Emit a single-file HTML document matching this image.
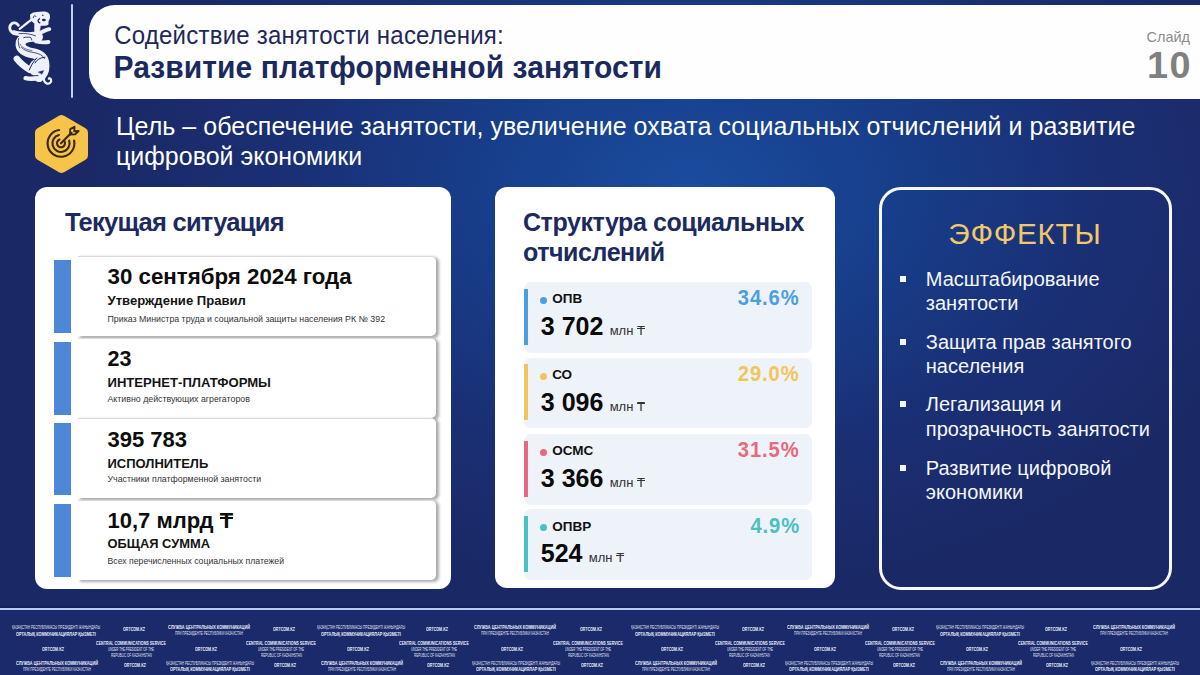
<!DOCTYPE html>
<html><head><meta charset="utf-8">
<style>
*{margin:0;padding:0;box-sizing:border-box}
html,body{width:1200px;height:675px;overflow:hidden}
body{font-family:"Liberation Sans",sans-serif;position:relative;background:#1a2966}
.b{position:absolute}
.t{position:absolute;white-space:nowrap;line-height:1}
#bg{left:0;top:0;width:1200px;height:608px;
background:radial-gradient(ellipse 600px 400px at 690px 190px,#1b4c9e 0%,#173f8c 32%,#1a2f74 68%,#1a2966 100%)}
.tg{position:relative;display:inline-block}
.tg:before{content:"";position:absolute;left:4%;right:4%;top:0.29em;height:0.08em;background:currentColor}
#footer{left:0;top:608px;width:1200px;height:67px;background:#1b2a6a;overflow:hidden}
#fline{left:0;top:607.6px;width:1200px;height:2.2px;background:#bccaee;box-shadow:0 -1.5px 1.5px rgba(10,15,50,0.45)}
.ft{position:absolute;white-space:nowrap;line-height:1;color:#e9eefa;font-weight:bold;transform-origin:0 0}
</style></head><body>
<div class="b" id="bg"></div>
<div class="b" style="left:89px;top:4.5px;width:1111px;height:94px;background:#fefefe;border-radius:26px 0 0 26px"></div>
<div class="b" style="left:71.3px;top:4.4px;width:2px;height:93.4px;background:#c3cdf0;border-radius:1px"></div>
<svg class="b" style="left:0;top:0" width="60" height="90" viewBox="0 0 60 90">
<g fill="none" stroke="#eef1fa" stroke-linecap="round" stroke-linejoin="round">
<path d="M30.8,15.1 C32,13.5 34,12.9 36.1,12.9 L43.7,12.2 C46.5,12.4 48.5,13.5 49,15.1 L49.2,17.3 C49,19 48.2,20.3 47.7,21.3 L47.7,24 C46.8,24.7 45.8,24.9 44.6,24.9 L39.7,24.9 C37.5,24.5 35.3,23.5 33.9,22.2 C32.6,21.2 31.6,20.2 31.2,19.1 Z" fill="#eef1fa" stroke-width="1.6"/>
<path d="M35,22 L40.5,24.5 L39.8,30 L39.5,35.5 L35,37 L34.5,28 Z" fill="#eef1fa" stroke-width="0.6"/>
<path d="M38.5,34 C42,32 46,29.8 49.3,29.2" stroke-width="3.9"/>
<path d="M19.7,28.9 C23,26.5 28,22 31.8,19.5" stroke-width="2.2"/>
<path d="M18.3,25.3 C16.5,22.5 13.5,22.3 11.5,23.8 C9.2,25.8 9.2,29.5 11.2,31.5 C13,33.3 17,33.6 21,33.4" stroke-width="2.9"/>
<path d="M13.5,32.5 C20,34.5 28,34 36.5,36" stroke-width="4.6"/>
<path d="M38,37 C28,36 20,38.5 20.5,44.5 C21,50 28,52.5 34,53.5 C41,55 44.5,59 44.5,66 C44.5,71 42,75 39,77" stroke-width="10"/>
<path d="M36,41.5 C40,42.3 45,42.5 48.5,42" stroke-width="3.8"/>
<path d="M30,70 C25,67 20,63 16.8,58.8" stroke-width="6.4"/>
<path d="M40,77.3 C35,79 30,79.2 25.6,78.2" stroke-width="4.4"/>
<ellipse cx="37" cy="68" rx="8" ry="9" fill="#eef1fa" stroke="none"/>
<path d="M45.5,73 C43.2,77 43.3,82.3 46.5,83.4 C49.5,84.3 51.8,82 51,79.5 C50.4,78 49.2,77.8 48.8,78.8" stroke-width="2.2"/>
</g>
<g fill="none" stroke="#1a2866" stroke-width="0.9" stroke-linecap="round">
<path d="M33.3,17.8 C33,16 35,15 36,16.5" stroke-width="1"/>
<ellipse cx="43.9" cy="20" rx="2" ry="1.3" fill="#1a2866" stroke="none"/>
<path d="M39.5,18.8 C37.5,19.8 37.5,22 39.8,22.8" stroke-width="1.3"/>
<circle cx="42.8" cy="15.3" r="0.8" fill="#1a2866" stroke="none"/>
<path d="M19,33.6 C25,33.1 31,33.9 35.5,35.9" stroke-width="0.8"/>
<path d="M23.7,37.6 C26,36.6 28,37.6 30,37.1 C31,37.4 31.5,38.6 31.7,40" stroke-width="0.9"/>
<path d="M18.6,38.5 C17.8,41 18.2,45 19.8,48" stroke-width="0.8"/>
<path d="M21.5,47.5 C24,50.5 29,51.8 34,52.6 C39.5,53.6 43,55.5 44.5,58.5" stroke-width="0.8"/>
<path d="M20,44 C21.5,48 27,49.8 32,50.5" stroke-width="0.6"/>
<path d="M45,57.2 C40,57.5 36.5,60 35,63" stroke-width="1"/>
<path d="M36.7,58 C33,62 31,66 29.3,70" stroke-width="1"/>
<path d="M38.3,72 L43.7,70.6 L42,74.1 Z" fill="#1a2866" stroke-width="0.4"/>
<path d="M29.5,74.2 C32,75.6 35,76 38,75.6" stroke-width="0.9"/>
</g>
</svg>
<div class="t " style="left:114.2px;top:23.68px;font-size:24px;font-weight:normal;color:#1f2856;letter-spacing:0.23px;transform:scaleY(1.08);transform-origin:0 0.8465em;">Содействие занятости населения:</div>
<div class="t " style="left:113.5px;top:53.11px;font-size:30px;font-weight:bold;color:#1b2a5e;letter-spacing:0.07px;transform:scaleY(1.06);transform-origin:0 0.8465em;">Развитие платформенной занятости</div>
<div class="t " style="left:1146.5px;top:29.53px;font-size:14.5px;font-weight:normal;color:#8c8c8c;letter-spacing:0px;">Слайд</div>
<div class="t " style="left:1146.5px;top:47.73px;font-size:36px;font-weight:bold;color:#808080;letter-spacing:1.5px;transform:scaleX(1.05);transform-origin:0 0;">10</div>
<svg class="b" style="left:30px;top:110px" width="64" height="68" viewBox="30 110 64 68">
<polygon points="61.5,120 83,132.5 83,155.5 61.5,168 40,155.5 40,132.5" fill="#f6c449" stroke="#f6c449" stroke-width="10" stroke-linejoin="round"/>
<g fill="none" stroke="#3a2810" stroke-width="2.1" stroke-linecap="round">
<path d="M74.11,140.51 A13.4,13.4 0 1 1 59.14,130.03"/>
<path d="M69.18,140.64 A8.6,8.6 0 1 1 58.92,134.96"/>
<path d="M64.63,141.61 A4.0,4.0 0 1 1 59.50,139.59"/>
<path d="M61,143.3 L71.5,132.8"/>
<path d="M70.2,129.2 L70,134.6 L75.2,134.3 L78.6,131 L74.3,131.2 L74.5,126.8 Z" stroke-linejoin="round" stroke-width="1.9"/>
</g>
</svg>
<div class="t " style="left:116px;top:113.84px;font-size:25px;font-weight:normal;color:#ffffff;letter-spacing:0.045px;transform:scaleY(1.05);transform-origin:0 0.8465em;">Цель – обеспечение занятости, увеличение охвата социальных отчислений и развитие</div>
<div class="t " style="left:116px;top:143.84px;font-size:25px;font-weight:normal;color:#ffffff;letter-spacing:0px;transform:scaleY(1.05);transform-origin:0 0.8465em;">цифровой экономики</div>
<div class="b" style="left:35.2px;top:187.4px;width:415.8px;height:401.4px;background:#fff;border-radius:12px"></div>
<div class="t " style="left:65px;top:210.21px;font-size:25.5px;font-weight:bold;color:#1c2a60;letter-spacing:-0.74px;">Текущая ситуация</div>
<div class="b" style="left:78px;top:255.6px;width:357.5px;height:80px;background:#fff;border-radius:0 5px 5px 0;border-top:1px solid #dadada;box-shadow:2.5px 1.5px 3px rgba(0,0,0,0.33)"></div>
<div class="b" style="left:54.3px;top:260.1px;width:16.8px;height:72.8px;background:#4d87d6"></div>
<div class="t " style="left:107.5px;top:266.12px;font-size:22.3px;font-weight:bold;color:#0d0d0d;letter-spacing:0px;">30 сентября 2024 года</div>
<div class="t " style="left:107.5px;top:293.91px;font-size:13.1px;font-weight:bold;color:#141414;letter-spacing:0px;">Утверждение Правил</div>
<div class="t " style="left:107.5px;top:315.05px;font-size:8.8px;font-weight:normal;color:#333333;letter-spacing:0px;">Приказ Министра труда и социальной защиты населения РК № 392</div>
<div class="b" style="left:78px;top:337.8px;width:357.5px;height:80px;background:#fff;border-radius:0 5px 5px 0;border-top:1px solid #dadada;box-shadow:2.5px 1.5px 3px rgba(0,0,0,0.33)"></div>
<div class="b" style="left:54.3px;top:342.3px;width:16.8px;height:72.8px;background:#4d87d6"></div>
<div class="t " style="left:107.5px;top:349.00px;font-size:21.5px;font-weight:bold;color:#0d0d0d;letter-spacing:0px;">23</div>
<div class="t " style="left:107.5px;top:376.11px;font-size:13.1px;font-weight:bold;color:#141414;letter-spacing:0px;">ИНТЕРНЕТ-ПЛАТФОРМЫ</div>
<div class="t " style="left:107.5px;top:394.75px;font-size:8.8px;font-weight:normal;color:#333333;letter-spacing:0px;">Активно действующих агрегаторов</div>
<div class="b" style="left:78px;top:418.2px;width:357.5px;height:80px;background:#fff;border-radius:0 5px 5px 0;border-top:1px solid #dadada;box-shadow:2.5px 1.5px 3px rgba(0,0,0,0.33)"></div>
<div class="b" style="left:54.3px;top:422.7px;width:16.8px;height:72.8px;background:#4d87d6"></div>
<div class="t " style="left:107.5px;top:428.98px;font-size:22px;font-weight:bold;color:#0d0d0d;letter-spacing:0px;">395 783</div>
<div class="t " style="left:107.5px;top:456.60px;font-size:13px;font-weight:bold;color:#141414;letter-spacing:0px;">ИСПОЛНИТЕЛЬ</div>
<div class="t " style="left:107.5px;top:475.15px;font-size:8.8px;font-weight:normal;color:#333333;letter-spacing:0px;">Участники платформенной занятости</div>
<div class="b" style="left:78px;top:499.6px;width:357.5px;height:80px;background:#fff;border-radius:0 5px 5px 0;border-top:1px solid #dadada;box-shadow:2.5px 1.5px 3px rgba(0,0,0,0.33)"></div>
<div class="b" style="left:54.3px;top:504.1px;width:16.8px;height:72.8px;background:#4d87d6"></div>
<div class="t " style="left:107.5px;top:510.38px;font-size:22px;font-weight:bold;color:#0d0d0d;letter-spacing:0px;">10,7 млрд <span class="tg">Т</span></div>
<div class="t " style="left:107.5px;top:538.08px;font-size:12.9px;font-weight:bold;color:#141414;letter-spacing:0px;">ОБЩАЯ СУММА</div>
<div class="t " style="left:107.5px;top:556.64px;font-size:8.7px;font-weight:normal;color:#333333;letter-spacing:0px;">Всех перечисленных социальных платежей</div>
<div class="b" style="left:495.2px;top:187.4px;width:340px;height:401px;background:#fff;border-radius:12px"></div>
<div class="t " style="left:523px;top:210.34px;font-size:25px;font-weight:bold;color:#1c2a60;letter-spacing:-0.43px;">Структура социальных</div>
<div class="t " style="left:523px;top:240.24px;font-size:25px;font-weight:bold;color:#1c2a60;letter-spacing:-0.43px;">отчислений</div>
<div class="b" style="left:523.8px;top:281.9px;width:288.2px;height:70.8px;background:#eef2f9;border-radius:7px"></div>
<div class="b" style="left:523.8px;top:288.7px;width:4px;height:56.2px;background:#4aa0de"></div>
<div class="b" style="left:540.3px;top:296.9px;width:7px;height:7px;border-radius:50%;background:#4aa0de"></div>
<div class="t " style="left:552.2px;top:292.47px;font-size:13.5px;font-weight:bold;color:#111;letter-spacing:0px;">ОПВ</div>
<div class="t" style="left:540.8px;top:313.94px;font-size:25px;font-weight:bold;color:#0b0b0b;letter-spacing:0px">3 702<span style="font-size:13px;font-weight:normal;color:#333;letter-spacing:0;margin-left:6.3px">млн <span class="tg">Т</span></span></div>
<div class="t" style="right:400.1px;top:287.34px;font-size:22.4px;font-weight:bold;color:#4aa0de;letter-spacing:1px;transform:scaleX(0.9);transform-origin:100% 0">34.6%</div>
<div class="b" style="left:523.8px;top:357.5px;width:288.2px;height:70.8px;background:#eef2f9;border-radius:7px"></div>
<div class="b" style="left:523.8px;top:364.3px;width:4px;height:56.2px;background:#f1c55e"></div>
<div class="b" style="left:540.3px;top:372.5px;width:7px;height:7px;border-radius:50%;background:#f1c55e"></div>
<div class="t " style="left:552.2px;top:368.07px;font-size:13.5px;font-weight:bold;color:#111;letter-spacing:0px;">СО</div>
<div class="t" style="left:540.8px;top:389.54px;font-size:25px;font-weight:bold;color:#0b0b0b;letter-spacing:0px">3 096<span style="font-size:13px;font-weight:normal;color:#333;letter-spacing:0;margin-left:6.3px">млн <span class="tg">Т</span></span></div>
<div class="t" style="right:400.1px;top:362.94px;font-size:22.4px;font-weight:bold;color:#f1c55e;letter-spacing:1px;transform:scaleX(0.9);transform-origin:100% 0">29.0%</div>
<div class="b" style="left:523.8px;top:433.8px;width:288.2px;height:70.8px;background:#eef2f9;border-radius:7px"></div>
<div class="b" style="left:523.8px;top:440.6px;width:4px;height:56.2px;background:#e8687f"></div>
<div class="b" style="left:540.3px;top:448.8px;width:7px;height:7px;border-radius:50%;background:#e8687f"></div>
<div class="t " style="left:552.2px;top:444.37px;font-size:13.5px;font-weight:bold;color:#111;letter-spacing:0px;">ОСМС</div>
<div class="t" style="left:540.8px;top:465.84px;font-size:25px;font-weight:bold;color:#0b0b0b;letter-spacing:0px">3 366<span style="font-size:13px;font-weight:normal;color:#333;letter-spacing:0;margin-left:6.3px">млн <span class="tg">Т</span></span></div>
<div class="t" style="right:400.1px;top:439.24px;font-size:22.4px;font-weight:bold;color:#e8687f;letter-spacing:1px;transform:scaleX(0.9);transform-origin:100% 0">31.5%</div>
<div class="b" style="left:523.8px;top:509.3px;width:288.2px;height:70.8px;background:#eef2f9;border-radius:7px"></div>
<div class="b" style="left:523.8px;top:516.1px;width:4px;height:56.2px;background:#4cbfbf"></div>
<div class="b" style="left:540.3px;top:524.3px;width:7px;height:7px;border-radius:50%;background:#4cbfbf"></div>
<div class="t " style="left:552.2px;top:519.87px;font-size:13.5px;font-weight:bold;color:#111;letter-spacing:0px;">ОПВР</div>
<div class="t" style="left:540.8px;top:541.34px;font-size:25px;font-weight:bold;color:#0b0b0b;letter-spacing:0px">524<span style="font-size:13px;font-weight:normal;color:#333;letter-spacing:0;margin-left:6.3px">млн <span class="tg">Т</span></span></div>
<div class="t" style="right:400.1px;top:514.74px;font-size:22.4px;font-weight:bold;color:#4cbfbf;letter-spacing:1px;transform:scaleX(0.9);transform-origin:100% 0">4.9%</div>
<div class="b" style="left:878.8px;top:187.2px;width:293px;height:402.5px;border:3px solid #f7f8fc;border-radius:22px"></div>
<div class="t " style="left:948.3px;top:219.46px;font-size:29.7px;font-weight:normal;color:#f2c868;letter-spacing:0.75px;">ЭФФЕКТЫ</div>
<div class="b" style="left:900.4px;top:275.9px;width:5.8px;height:5.8px;background:#f4f6fb"></div>
<div class="t " style="left:925.8px;top:268.97px;font-size:20px;font-weight:normal;color:#f4f6fb;letter-spacing:0px;">Масштабирование</div>
<div class="t " style="left:925.8px;top:293.17px;font-size:20px;font-weight:normal;color:#f4f6fb;letter-spacing:0px;">занятости</div>
<div class="b" style="left:900.4px;top:339.0px;width:5.8px;height:5.8px;background:#f4f6fb"></div>
<div class="t " style="left:925.8px;top:332.07px;font-size:20px;font-weight:normal;color:#f4f6fb;letter-spacing:0px;">Защита прав занятого</div>
<div class="t " style="left:925.8px;top:356.27px;font-size:20px;font-weight:normal;color:#f4f6fb;letter-spacing:0px;">населения</div>
<div class="b" style="left:900.4px;top:401.3px;width:5.8px;height:5.8px;background:#f4f6fb"></div>
<div class="t " style="left:925.8px;top:394.37px;font-size:20px;font-weight:normal;color:#f4f6fb;letter-spacing:0px;">Легализация и</div>
<div class="t " style="left:925.8px;top:418.57px;font-size:20px;font-weight:normal;color:#f4f6fb;letter-spacing:0px;">прозрачность занятости</div>
<div class="b" style="left:900.4px;top:464.8px;width:5.8px;height:5.8px;background:#f4f6fb"></div>
<div class="t " style="left:925.8px;top:457.87px;font-size:20px;font-weight:normal;color:#f4f6fb;letter-spacing:0px;">Развитие цифровой</div>
<div class="t " style="left:925.8px;top:482.07px;font-size:20px;font-weight:normal;color:#f4f6fb;letter-spacing:0px;">экономики</div>
<div class="b" id="footer"></div><div class="b" id="fline"></div>
<div class="ft" style="left:12.0px;top:623.70px;font-size:6.1px;font-weight:normal;opacity:0.95;transform:scaleX(0.518)">ҚАЗАҚСТАН РЕСПУБЛИКАСЫ ПРЕЗИДЕНТІ ЖАНЫНДАҒЫ</div>
<div class="ft" style="left:16.0px;top:630.70px;font-size:6.1px;font-weight:bold;opacity:1.0;transform:scaleX(0.628)">ОРТАЛЫҚ КОММУНИКАЦИЯЛАР ҚЫЗМЕТІ</div>
<div class="ft" style="left:42.0px;top:646.20px;font-size:6.1px;font-weight:bold;opacity:1.0;transform:scaleX(0.596)">ORTCOM.KZ</div>
<div class="ft" style="left:16.0px;top:660.00px;font-size:6.1px;font-weight:bold;opacity:1.0;transform:scaleX(0.630)">СЛУЖБА ЦЕНТРАЛЬНЫХ КОММУНИКАЦИЙ</div>
<div class="ft" style="left:23.0px;top:666.00px;font-size:6.1px;font-weight:normal;opacity:0.95;transform:scaleX(0.503)">ПРИ ПРЕЗИДЕНТЕ РЕСПУБЛИКИ КАЗАХСТАН</div>
<div class="ft" style="left:123.0px;top:626.30px;font-size:6.1px;font-weight:bold;opacity:1.0;transform:scaleX(0.596)">ORTCOM.KZ</div>
<div class="ft" style="left:96.0px;top:640.40px;font-size:6.1px;font-weight:bold;opacity:1.0;transform:scaleX(0.604)">CENTRAL COMMUNICATIONS SERVICE</div>
<div class="ft" style="left:108.0px;top:646.30px;font-size:6.1px;font-weight:normal;opacity:0.95;transform:scaleX(0.480)">UNDER THE PRESIDENT OF THE</div>
<div class="ft" style="left:110.5px;top:652.20px;font-size:6.1px;font-weight:normal;opacity:0.95;transform:scaleX(0.496)">REPUBLIC OF KAZAKHSTAN</div>
<div class="ft" style="left:124.0px;top:661.50px;font-size:6.1px;font-weight:bold;opacity:1.0;transform:scaleX(0.596)">ORTCOM.KZ</div>
<div class="ft" style="left:168.0px;top:623.70px;font-size:6.1px;font-weight:bold;opacity:1.0;transform:scaleX(0.630)">СЛУЖБА ЦЕНТРАЛЬНЫХ КОММУНИКАЦИЙ</div>
<div class="ft" style="left:175.0px;top:630.20px;font-size:6.1px;font-weight:normal;opacity:0.95;transform:scaleX(0.503)">ПРИ ПРЕЗИДЕНТЕ РЕСПУБЛИКИ КАЗАХСТАН</div>
<div class="ft" style="left:195.0px;top:646.20px;font-size:6.1px;font-weight:bold;opacity:1.0;transform:scaleX(0.596)">ORTCOM.KZ</div>
<div class="ft" style="left:166.0px;top:660.00px;font-size:6.1px;font-weight:normal;opacity:0.95;transform:scaleX(0.518)">ҚАЗАҚСТАН РЕСПУБЛИКАСЫ ПРЕЗИДЕНТІ ЖАНЫНДАҒЫ</div>
<div class="ft" style="left:170.0px;top:666.00px;font-size:6.1px;font-weight:bold;opacity:1.0;transform:scaleX(0.628)">ОРТАЛЫҚ КОММУНИКАЦИЯЛАР ҚЫЗМЕТІ</div>
<div class="ft" style="left:273.0px;top:626.30px;font-size:6.1px;font-weight:bold;opacity:1.0;transform:scaleX(0.596)">ORTCOM.KZ</div>
<div class="ft" style="left:246.0px;top:640.40px;font-size:6.1px;font-weight:bold;opacity:1.0;transform:scaleX(0.604)">CENTRAL COMMUNICATIONS SERVICE</div>
<div class="ft" style="left:258.0px;top:646.30px;font-size:6.1px;font-weight:normal;opacity:0.95;transform:scaleX(0.480)">UNDER THE PRESIDENT OF THE</div>
<div class="ft" style="left:260.5px;top:652.20px;font-size:6.1px;font-weight:normal;opacity:0.95;transform:scaleX(0.496)">REPUBLIC OF KAZAKHSTAN</div>
<div class="ft" style="left:274.0px;top:661.50px;font-size:6.1px;font-weight:bold;opacity:1.0;transform:scaleX(0.596)">ORTCOM.KZ</div>
<div class="ft" style="left:317.0px;top:623.70px;font-size:6.1px;font-weight:normal;opacity:0.95;transform:scaleX(0.518)">ҚАЗАҚСТАН РЕСПУБЛИКАСЫ ПРЕЗИДЕНТІ ЖАНЫНДАҒЫ</div>
<div class="ft" style="left:321.0px;top:630.70px;font-size:6.1px;font-weight:bold;opacity:1.0;transform:scaleX(0.628)">ОРТАЛЫҚ КОММУНИКАЦИЯЛАР ҚЫЗМЕТІ</div>
<div class="ft" style="left:347.0px;top:646.20px;font-size:6.1px;font-weight:bold;opacity:1.0;transform:scaleX(0.596)">ORTCOM.KZ</div>
<div class="ft" style="left:321.0px;top:660.00px;font-size:6.1px;font-weight:bold;opacity:1.0;transform:scaleX(0.630)">СЛУЖБА ЦЕНТРАЛЬНЫХ КОММУНИКАЦИЙ</div>
<div class="ft" style="left:328.0px;top:666.00px;font-size:6.1px;font-weight:normal;opacity:0.95;transform:scaleX(0.503)">ПРИ ПРЕЗИДЕНТЕ РЕСПУБЛИКИ КАЗАХСТАН</div>
<div class="ft" style="left:426.0px;top:626.30px;font-size:6.1px;font-weight:bold;opacity:1.0;transform:scaleX(0.596)">ORTCOM.KZ</div>
<div class="ft" style="left:399.0px;top:640.40px;font-size:6.1px;font-weight:bold;opacity:1.0;transform:scaleX(0.604)">CENTRAL COMMUNICATIONS SERVICE</div>
<div class="ft" style="left:411.0px;top:646.30px;font-size:6.1px;font-weight:normal;opacity:0.95;transform:scaleX(0.480)">UNDER THE PRESIDENT OF THE</div>
<div class="ft" style="left:413.5px;top:652.20px;font-size:6.1px;font-weight:normal;opacity:0.95;transform:scaleX(0.496)">REPUBLIC OF KAZAKHSTAN</div>
<div class="ft" style="left:427.0px;top:661.50px;font-size:6.1px;font-weight:bold;opacity:1.0;transform:scaleX(0.596)">ORTCOM.KZ</div>
<div class="ft" style="left:474.0px;top:623.70px;font-size:6.1px;font-weight:bold;opacity:1.0;transform:scaleX(0.630)">СЛУЖБА ЦЕНТРАЛЬНЫХ КОММУНИКАЦИЙ</div>
<div class="ft" style="left:481.0px;top:630.20px;font-size:6.1px;font-weight:normal;opacity:0.95;transform:scaleX(0.503)">ПРИ ПРЕЗИДЕНТЕ РЕСПУБЛИКИ КАЗАХСТАН</div>
<div class="ft" style="left:501.0px;top:646.20px;font-size:6.1px;font-weight:bold;opacity:1.0;transform:scaleX(0.596)">ORTCOM.KZ</div>
<div class="ft" style="left:472.0px;top:660.00px;font-size:6.1px;font-weight:normal;opacity:0.95;transform:scaleX(0.518)">ҚАЗАҚСТАН РЕСПУБЛИКАСЫ ПРЕЗИДЕНТІ ЖАНЫНДАҒЫ</div>
<div class="ft" style="left:476.0px;top:666.00px;font-size:6.1px;font-weight:bold;opacity:1.0;transform:scaleX(0.628)">ОРТАЛЫҚ КОММУНИКАЦИЯЛАР ҚЫЗМЕТІ</div>
<div class="ft" style="left:580.0px;top:626.30px;font-size:6.1px;font-weight:bold;opacity:1.0;transform:scaleX(0.596)">ORTCOM.KZ</div>
<div class="ft" style="left:553.0px;top:640.40px;font-size:6.1px;font-weight:bold;opacity:1.0;transform:scaleX(0.604)">CENTRAL COMMUNICATIONS SERVICE</div>
<div class="ft" style="left:565.0px;top:646.30px;font-size:6.1px;font-weight:normal;opacity:0.95;transform:scaleX(0.480)">UNDER THE PRESIDENT OF THE</div>
<div class="ft" style="left:567.5px;top:652.20px;font-size:6.1px;font-weight:normal;opacity:0.95;transform:scaleX(0.496)">REPUBLIC OF KAZAKHSTAN</div>
<div class="ft" style="left:581.0px;top:661.50px;font-size:6.1px;font-weight:bold;opacity:1.0;transform:scaleX(0.596)">ORTCOM.KZ</div>
<div class="ft" style="left:631.0px;top:623.70px;font-size:6.1px;font-weight:normal;opacity:0.95;transform:scaleX(0.518)">ҚАЗАҚСТАН РЕСПУБЛИКАСЫ ПРЕЗИДЕНТІ ЖАНЫНДАҒЫ</div>
<div class="ft" style="left:635.0px;top:630.70px;font-size:6.1px;font-weight:bold;opacity:1.0;transform:scaleX(0.628)">ОРТАЛЫҚ КОММУНИКАЦИЯЛАР ҚЫЗМЕТІ</div>
<div class="ft" style="left:661.0px;top:646.20px;font-size:6.1px;font-weight:bold;opacity:1.0;transform:scaleX(0.596)">ORTCOM.KZ</div>
<div class="ft" style="left:635.0px;top:660.00px;font-size:6.1px;font-weight:bold;opacity:1.0;transform:scaleX(0.630)">СЛУЖБА ЦЕНТРАЛЬНЫХ КОММУНИКАЦИЙ</div>
<div class="ft" style="left:642.0px;top:666.00px;font-size:6.1px;font-weight:normal;opacity:0.95;transform:scaleX(0.503)">ПРИ ПРЕЗИДЕНТЕ РЕСПУБЛИКИ КАЗАХСТАН</div>
<div class="ft" style="left:741.5px;top:626.30px;font-size:6.1px;font-weight:bold;opacity:1.0;transform:scaleX(0.596)">ORTCOM.KZ</div>
<div class="ft" style="left:714.5px;top:640.40px;font-size:6.1px;font-weight:bold;opacity:1.0;transform:scaleX(0.604)">CENTRAL COMMUNICATIONS SERVICE</div>
<div class="ft" style="left:726.5px;top:646.30px;font-size:6.1px;font-weight:normal;opacity:0.95;transform:scaleX(0.480)">UNDER THE PRESIDENT OF THE</div>
<div class="ft" style="left:729.0px;top:652.20px;font-size:6.1px;font-weight:normal;opacity:0.95;transform:scaleX(0.496)">REPUBLIC OF KAZAKHSTAN</div>
<div class="ft" style="left:742.5px;top:661.50px;font-size:6.1px;font-weight:bold;opacity:1.0;transform:scaleX(0.596)">ORTCOM.KZ</div>
<div class="ft" style="left:787.0px;top:623.70px;font-size:6.1px;font-weight:bold;opacity:1.0;transform:scaleX(0.630)">СЛУЖБА ЦЕНТРАЛЬНЫХ КОММУНИКАЦИЙ</div>
<div class="ft" style="left:794.0px;top:630.20px;font-size:6.1px;font-weight:normal;opacity:0.95;transform:scaleX(0.503)">ПРИ ПРЕЗИДЕНТЕ РЕСПУБЛИКИ КАЗАХСТАН</div>
<div class="ft" style="left:814.0px;top:646.20px;font-size:6.1px;font-weight:bold;opacity:1.0;transform:scaleX(0.596)">ORTCOM.KZ</div>
<div class="ft" style="left:785.0px;top:660.00px;font-size:6.1px;font-weight:normal;opacity:0.95;transform:scaleX(0.518)">ҚАЗАҚСТАН РЕСПУБЛИКАСЫ ПРЕЗИДЕНТІ ЖАНЫНДАҒЫ</div>
<div class="ft" style="left:789.0px;top:666.00px;font-size:6.1px;font-weight:bold;opacity:1.0;transform:scaleX(0.628)">ОРТАЛЫҚ КОММУНИКАЦИЯЛАР ҚЫЗМЕТІ</div>
<div class="ft" style="left:891.5px;top:626.30px;font-size:6.1px;font-weight:bold;opacity:1.0;transform:scaleX(0.596)">ORTCOM.KZ</div>
<div class="ft" style="left:864.5px;top:640.40px;font-size:6.1px;font-weight:bold;opacity:1.0;transform:scaleX(0.604)">CENTRAL COMMUNICATIONS SERVICE</div>
<div class="ft" style="left:876.5px;top:646.30px;font-size:6.1px;font-weight:normal;opacity:0.95;transform:scaleX(0.480)">UNDER THE PRESIDENT OF THE</div>
<div class="ft" style="left:879.0px;top:652.20px;font-size:6.1px;font-weight:normal;opacity:0.95;transform:scaleX(0.496)">REPUBLIC OF KAZAKHSTAN</div>
<div class="ft" style="left:892.5px;top:661.50px;font-size:6.1px;font-weight:bold;opacity:1.0;transform:scaleX(0.596)">ORTCOM.KZ</div>
<div class="ft" style="left:936.0px;top:623.70px;font-size:6.1px;font-weight:normal;opacity:0.95;transform:scaleX(0.518)">ҚАЗАҚСТАН РЕСПУБЛИКАСЫ ПРЕЗИДЕНТІ ЖАНЫНДАҒЫ</div>
<div class="ft" style="left:940.0px;top:630.70px;font-size:6.1px;font-weight:bold;opacity:1.0;transform:scaleX(0.628)">ОРТАЛЫҚ КОММУНИКАЦИЯЛАР ҚЫЗМЕТІ</div>
<div class="ft" style="left:966.0px;top:646.20px;font-size:6.1px;font-weight:bold;opacity:1.0;transform:scaleX(0.596)">ORTCOM.KZ</div>
<div class="ft" style="left:940.0px;top:660.00px;font-size:6.1px;font-weight:bold;opacity:1.0;transform:scaleX(0.630)">СЛУЖБА ЦЕНТРАЛЬНЫХ КОММУНИКАЦИЙ</div>
<div class="ft" style="left:947.0px;top:666.00px;font-size:6.1px;font-weight:normal;opacity:0.95;transform:scaleX(0.503)">ПРИ ПРЕЗИДЕНТЕ РЕСПУБЛИКИ КАЗАХСТАН</div>
<div class="ft" style="left:1045.0px;top:626.30px;font-size:6.1px;font-weight:bold;opacity:1.0;transform:scaleX(0.596)">ORTCOM.KZ</div>
<div class="ft" style="left:1018.0px;top:640.40px;font-size:6.1px;font-weight:bold;opacity:1.0;transform:scaleX(0.604)">CENTRAL COMMUNICATIONS SERVICE</div>
<div class="ft" style="left:1030.0px;top:646.30px;font-size:6.1px;font-weight:normal;opacity:0.95;transform:scaleX(0.480)">UNDER THE PRESIDENT OF THE</div>
<div class="ft" style="left:1032.5px;top:652.20px;font-size:6.1px;font-weight:normal;opacity:0.95;transform:scaleX(0.496)">REPUBLIC OF KAZAKHSTAN</div>
<div class="ft" style="left:1046.0px;top:661.50px;font-size:6.1px;font-weight:bold;opacity:1.0;transform:scaleX(0.596)">ORTCOM.KZ</div>
<div class="ft" style="left:1093.0px;top:623.70px;font-size:6.1px;font-weight:bold;opacity:1.0;transform:scaleX(0.630)">СЛУЖБА ЦЕНТРАЛЬНЫХ КОММУНИКАЦИЙ</div>
<div class="ft" style="left:1100.0px;top:630.20px;font-size:6.1px;font-weight:normal;opacity:0.95;transform:scaleX(0.503)">ПРИ ПРЕЗИДЕНТЕ РЕСПУБЛИКИ КАЗАХСТАН</div>
<div class="ft" style="left:1120.0px;top:646.20px;font-size:6.1px;font-weight:bold;opacity:1.0;transform:scaleX(0.596)">ORTCOM.KZ</div>
<div class="ft" style="left:1091.0px;top:660.00px;font-size:6.1px;font-weight:normal;opacity:0.95;transform:scaleX(0.518)">ҚАЗАҚСТАН РЕСПУБЛИКАСЫ ПРЕЗИДЕНТІ ЖАНЫНДАҒЫ</div>
<div class="ft" style="left:1095.0px;top:666.00px;font-size:6.1px;font-weight:bold;opacity:1.0;transform:scaleX(0.628)">ОРТАЛЫҚ КОММУНИКАЦИЯЛАР ҚЫЗМЕТІ</div>
</body></html>
